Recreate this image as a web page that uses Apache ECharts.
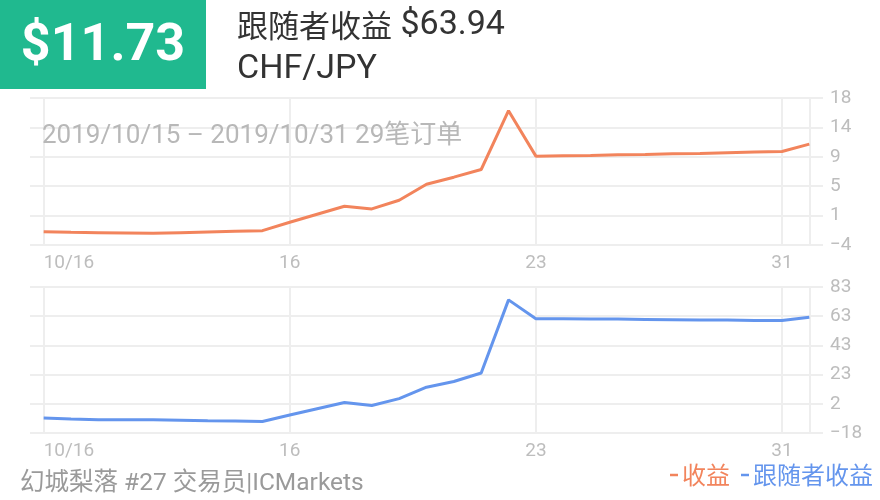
<!DOCTYPE html>
<html>
<head>
<meta charset="utf-8">
<script src="https://cdn.jsdelivr.net/npm/echarts@6/dist/echarts.min.js"></script>
<style>
html,body{margin:0;padding:0;background:#fff;}
#chart{width:880px;height:500px;}
</style>
</head>
<body>
<div id="chart"></div>
<script>
// ---- data ----
const orderIndex = ['1','2','3','4','5','6','7','8','9','10','11','12','13','14','15','16','17','18','19','20','21','22','23','24','25','26','27','28','29'];
const xTickLabels = {0: '10/16', 9: '16', 18: '23', 27: '31'};
const profit = [-1.8, -1.9, -1.95, -2.0, -2.05, -1.95, -1.85, -1.75, -1.65, -0.4, 0.8, 2.0, 1.6, 2.9, 5.3, 6.35, 7.5, 16.3, 9.5, 9.55, 9.6, 9.7, 9.75, 9.85, 9.9, 10.0, 10.1, 10.2, 11.3];
const followerProfit = [-7.5, -8.1, -8.6, -8.6, -8.7, -9.0, -9.3, -9.5, -9.8, -5.4, -1.0, 3.3, 1.2, 6.0, 13.9, 17.8, 23.7, 74.3, 61.3, 61.2, 61.1, 61.0, 60.8, 60.6, 60.4, 60.3, 60.1, 60.0, 62.3];
const profitTicks = ['\u22124', '1', '5', '9', '14', '18'];
const followerTicks = ['\u221218', '2', '23', '43', '63', '83'];
const profitRange = [-3.8, 18.2];
const followerRange = [-17.8, 83.2];
const headline = '$11.73';
const titleLabel = '跟随者收益';
const titleAmount = '$63.94';
const symbolLine = 'CHF/JPY';
const periodLine = '2019/10/15 \u2013 2019/10/31 29笔订单';
const footerLine = '幻城梨落 #27 交易员|ICMarkets';
const seriesNames = ['收益', '跟随者收益'];
const colors = ['#f2845c', '#6495ed'];

const chart = echarts.init(document.getElementById('chart'));
const gridLine = {color: '#eeeeee', width: 2};
const labelFont = {color: '#bdbdbd', fontSize: 19, fontFamily: 'Roboto, "Noto Sans CJK SC", sans-serif'};
const keep = i => (i % 9 === 0) || i === orderIndex.length - 1;

function xAxisFor(g) {
  return {
    type: 'category', gridIndex: g, data: orderIndex, boundaryGap: true,
    axisLine: {show: false}, axisTick: {show: false},
    axisLabel: Object.assign({
      interval: i => xTickLabels[i] !== undefined,
      formatter: (v, i) => xTickLabels[i] || '',
      margin: 9, alignMinLabel: 'left'
    }, labelFont),
    splitLine: {show: true, interval: keep, alignWithLabel: true, lineStyle: gridLine}
  };
}
function labelAxis(g, ticks) {
  return {
    type: 'value', gridIndex: g, position: 'right', min: 0, max: 5, interval: 1,
    axisLine: {show: false}, axisTick: {show: false},
    axisLabel: Object.assign({margin: 7, formatter: v => ticks[Math.round(v)]}, labelFont),
    splitLine: {show: true, lineStyle: gridLine}
  };
}

chart.setOption({
  animation: false,
  grid: [
    {left: 30, right: 57, top: 98, height: 147},
    {left: 30, right: 57, top: 287, height: 146}
  ],
  xAxis: [xAxisFor(0), xAxisFor(1)],
  yAxis: [
    {type: 'value', gridIndex: 0, min: profitRange[0], max: profitRange[1], show: false},
    labelAxis(0, profitTicks),
    {type: 'value', gridIndex: 1, min: followerRange[0], max: followerRange[1], show: false},
    labelAxis(1, followerTicks)
  ],
  legend: {
    right: 7, top: 463, padding: 0, itemGap: 11, itemWidth: 8, itemHeight: 2.5,
    icon: 'rect',
    textStyle: {fontSize: 24, fontFamily: '"Noto Sans CJK SC", sans-serif', padding: [0, 0, 0, -1]},
    data: [
      {name: seriesNames[0], textStyle: {color: colors[0]}},
      {name: seriesNames[1], textStyle: {color: colors[1]}}
    ]
  },
  series: [
    {name: seriesNames[0], type: 'line', xAxisIndex: 0, yAxisIndex: 0, data: profit,
     showSymbol: false, symbol: 'none', color: colors[0], lineStyle: {width: 3, color: colors[0]}},
    {name: seriesNames[1], type: 'line', xAxisIndex: 1, yAxisIndex: 2, data: followerProfit,
     showSymbol: false, symbol: 'none', color: colors[1], lineStyle: {width: 3, color: colors[1]}}
  ],
  graphic: [
    {type: 'rect', left: 0, top: 0, shape: {width: 206, height: 89}, style: {fill: '#20b98f'}},
    {type: 'text', x: 103, y: 47, style: {text: headline, fill: '#fff', font: 'bold 52px Roboto, "Liberation Sans", sans-serif', textAlign: 'center', textVerticalAlign: 'middle'}},
    {type: 'text', x: 237, y: 25, style: {
      text: '{a|' + titleLabel + '}{b|\u00a0' + titleAmount + '}',
      textAlign: 'left', textVerticalAlign: 'middle',
      rich: {
        a: {fill: '#333', fontSize: 31, fontFamily: '"Noto Sans CJK SC", sans-serif'},
        b: {fill: '#333', fontSize: 34, fontFamily: 'Roboto, sans-serif'}
      }
    }},
    {type: 'text', x: 237, y: 69, style: {text: symbolLine, fill: '#333', font: '34px Roboto, "Noto Sans CJK SC", sans-serif', textAlign: 'left', textVerticalAlign: 'middle'}},
    {type: 'text', x: 42, y: 136, z: 10, style: {text: periodLine, fill: '#b8b8b8', font: '26px Roboto, "Noto Sans CJK SC", sans-serif', textAlign: 'left', textVerticalAlign: 'middle'}},
    {type: 'text', x: 20, y: 484, style: {text: footerLine, fill: '#9a9a9a', font: '24.5px Roboto, "Noto Sans CJK SC", sans-serif', textAlign: 'left', textVerticalAlign: 'middle'}}
  ]
});
</script>
</body>
</html>
